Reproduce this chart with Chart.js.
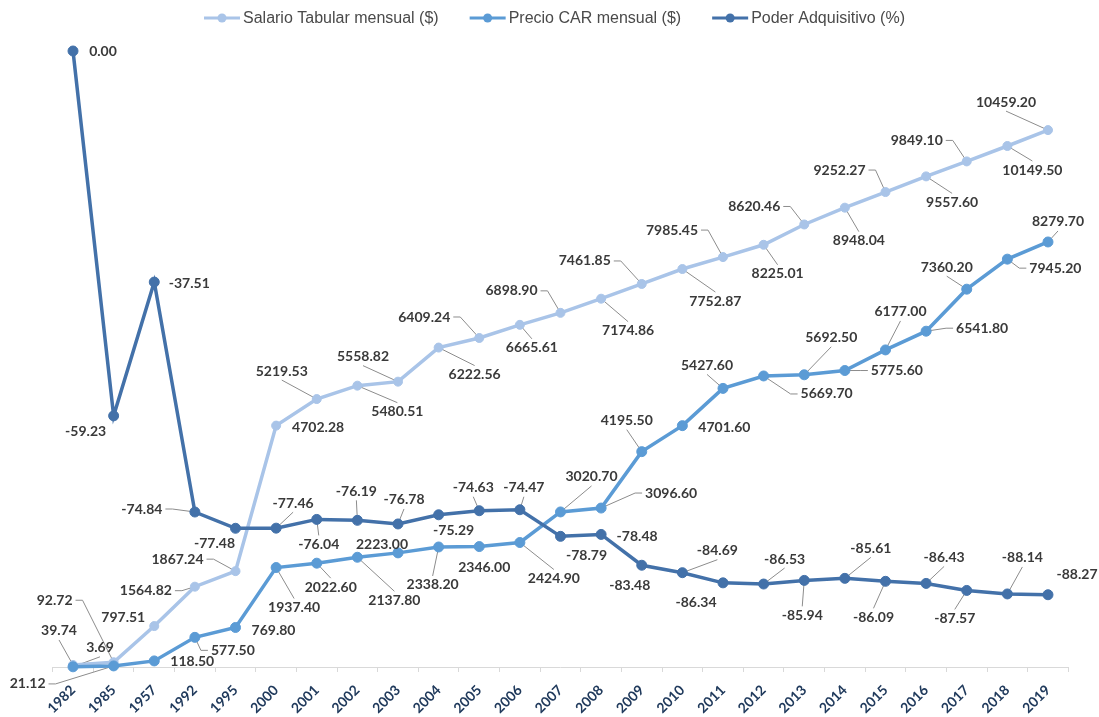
<!DOCTYPE html>
<html>
<head>
<meta charset="utf-8">
<script src="https://cdn.jsdelivr.net/npm/chart.js@4.4.1/dist/chart.umd.min.js"></script>
<style>
  html, body { margin: 0; padding: 0; background: #ffffff; }
  #wrap { width: 1099px; height: 717px; position: relative; }
</style>
</head>
<body>
<div id="wrap"><canvas id="c" width="1099" height="717"></canvas></div>
<script>
// ---------------- data ----------------
const categories = ['1982','1985','1957','1992','1995','2000','2001','2002','2003','2004','2005','2006','2007','2008','2009','2010','2011','2012','2013','2014','2015','2016','2017','2018','2019'];
const seriesNames = ['Salario Tabular mensual ($)', 'Precio CAR mensual ($)', 'Poder Adquisitivo (%)'];
const salario = [39.74, 92.72, 797.51, 1564.82, 1867.24, 4702.28, 5219.53, 5480.51, 5558.82, 6222.56, 6409.24, 6665.61, 6898.90, 7174.86, 7461.85, 7752.87, 7985.45, 8225.01, 8620.46, 8948.04, 9252.27, 9557.60, 9849.10, 10149.50, 10459.20];
const precio = [3.69, 21.12, 118.50, 577.50, 769.80, 1937.40, 2022.60, 2137.80, 2223.00, 2338.20, 2346.00, 2424.90, 3020.70, 3096.60, 4195.50, 4701.60, 5427.60, 5669.70, 5692.50, 5775.60, 6177.00, 6541.80, 7360.20, 7945.20, 8279.70];
const poder = [0.00, -59.23, -37.51, -74.84, -77.48, -77.46, -76.04, -76.19, -76.78, -75.29, -74.63, -74.47, -78.79, -78.48, -83.48, -84.69, -86.34, -86.53, -85.94, -85.61, -86.09, -86.43, -87.57, -88.14, -88.27];

// label placement relative to each point: [dx, dy, leader] ; leader: 0 none, 'e' elbow from side, 'v' from top/bottom
const salarioLabelPos = [
  [-14,-34,'v'],[-59,-62,'e'],[-31,-9,0],[-49,4,'e'],[-58,-12,'e'],[42,2,0],[-35,-28,'v'],[40,26,'v'],
  [-35,-25,'v'],[36,27,'v'],[-55,-21,'e'],[12,23,'v'],[-49,-22,'e'],[27,32,'v'],[-57,-23,'e'],[33,32,'v'],
  [-51,-27,'e'],[14,29,'v'],[-50,-18,'e'],[14,33,'v'],[-46,-22,'e'],[26,26,'v'],[-50,-21,'e'],[25,24,'v'],[-42,-28,'v']
];
const precioLabelPos = [
  [27,-19,'v'],[-86,18,'e'],[38,1,0],[38,13,'e'],[38,3,0],[18,40,'v'],[14,24,'v'],[37,43,'v'],
  [-16,-8,0],[-6,38,'v'],[5,21,0],[34,36,'v'],[31,-35,'v'],[70,-15,'e'],[-15,-31,'v'],[42,2,0],
  [-16,-23,'v'],[63,18,'e'],[27,-37,'v'],[52,0,'e'],[15,-38,'v'],[56,-3,'e'],[-20,-22,'v'],[48,9,'e'],[10,-20,'v']
];
const poderLabelPos = [
  [30,0,0],[-28,16,0],[35,1,0],[-53,-3,'e'],[-21,15,0],[17,-25,'v'],[2,25,'v'],[-1,-29,'v'],
  [6,-24,'v'],[15,16,0],[-6,-23,'v'],[4,-22,'v'],[26,19,0],[36,2,0],[-12,20,0],[35,-22,'v'],
  [-27,20,0],[21,-25,'v'],[-2,35,'v'],[26,-30,'v'],[-12,36,'v'],[18,-26,'v'],[-12,28,'v'],[15,-36,'v'],[29,-20,0]
];

// ---------------- styles ----------------
const COLORS = ['#A9C4E8', '#5B9BD5', '#4371A9'];
const LABEL_FONT = 'bold 14px Lato';
const LABEL_COLOR = '#3a3a3a';
const LEADER_COLOR = '#8c8c8c';

const labelPositions = [salarioLabelPos, precioLabelPos, poderLabelPos];

function eachLabel(chart, cb) {
  const ctx = chart.ctx;
  chart.data.datasets.forEach((ds, di) => {
    const meta = chart.getDatasetMeta(di);
    const pos = labelPositions[di];
    meta.data.forEach((pt, i) => {
      const text = Number(ds.data[i]).toFixed(2);
      const p = pos[i];
      cb(ctx, pt, text, pt.x + p[0], pt.y + p[1], p[2]);
    });
  });
}

const pointLabelsPlugin = {
  id: 'pointLabels',
  beforeDatasetsDraw(chart) {
    const ctx = chart.ctx;
    ctx.save();
    ctx.font = LABEL_FONT;
    ctx.strokeStyle = LEADER_COLOR;
    ctx.lineWidth = 1;
    eachLabel(chart, (ctx, pt, text, cx, cy, mode) => {
      if (!mode) return;
      const w = ctx.measureText(text).width;
      const h = 12;
      ctx.beginPath();
      if (mode === 'e') {
        const side = pt.x > cx ? 1 : -1;
        const sx = cx + side * (w / 2 + 3);
        ctx.moveTo(sx, cy);
        ctx.lineTo(sx + side * 7, cy);
        ctx.lineTo(pt.x, pt.y);
      } else {
        const side = pt.y > cy ? 1 : -1;
        ctx.moveTo(cx, cy + side * (h / 2 + 3));
        ctx.lineTo(pt.x, pt.y);
      }
      ctx.stroke();
    });
    ctx.restore();
  },
  afterDatasetsDraw(chart) {
    const ctx = chart.ctx;
    ctx.save();
    ctx.font = LABEL_FONT;
    ctx.fillStyle = LABEL_COLOR;
    ctx.textAlign = 'center';
    ctx.textBaseline = 'middle';
    eachLabel(chart, (ctx, pt, text, cx, cy) => {
      ctx.fillText(text, cx, cy);
    });
    ctx.restore();
  }
};

const legendPlugin = {
  id: 'lineLegend',
  afterDraw(chart) {
    const ctx = chart.ctx;
    ctx.save();
    ctx.font = '16px "Liberation Sans"';
    const items = chart.data.datasets.map(ds => ({ text: ds.label, color: ds.borderColor, w: ctx.measureText(ds.label).width }));
    const markW = 36, gapIn = 3, gapOut = 31;
    const total = items.reduce((s, it) => s + markW + gapIn + it.w, 0) + gapOut * (items.length - 1);
    let x = chart.width / 2 - total / 2 + 5;
    const y = 18;
    items.forEach(it => {
      ctx.strokeStyle = it.color;
      ctx.lineWidth = 3;
      ctx.beginPath(); ctx.moveTo(x, y); ctx.lineTo(x + markW, y); ctx.stroke();
      ctx.fillStyle = it.color;
      ctx.beginPath(); ctx.arc(x + markW / 2, y, 4.5, 0, Math.PI * 2); ctx.fill();
      ctx.fillStyle = '#4a4a4a';
      ctx.textAlign = 'left';
      ctx.textBaseline = 'middle';
      ctx.fillText(it.text, x + markW + gapIn, y + 1);
      x += markW + gapIn + it.w + gapOut;
    });
    ctx.restore();
  }
};

function makeDataset(label, data, color, axis, order, radius) {
  return {
    label, data, yAxisID: axis, order,
    borderColor: color, backgroundColor: color,
    borderWidth: 3.5,
    pointRadius: radius, pointHoverRadius: radius,
    pointBackgroundColor: color, pointBorderColor: color, pointBorderWidth: 1,
    tension: 0, fill: false, clip: false
  };
}

new Chart(document.getElementById('c'), {
  type: 'line',
  data: {
    labels: categories,
    datasets: [
      makeDataset(seriesNames[0], salario, COLORS[0], 'y', 2, 4.5),
      makeDataset(seriesNames[1], precio, COLORS[1], 'y', 1, 5),
      makeDataset(seriesNames[2], poder, COLORS[2], 'y2', 0, 5)
    ]
  },
  options: {
    responsive: false,
    animation: false,
    events: [],
    layout: { padding: { top: 51, bottom: 0, left: 52.7, right: 30.7 } },
    plugins: { legend: { display: false }, tooltip: { enabled: false } },
    scales: {
      x: {
        type: 'category',
        offset: true,
        afterFit(scale) { scale.height = 50; },
        border: { display: true, color: '#D9D9D9', width: 1 },
        grid: { display: true, drawOnChartArea: false, drawTicks: true, tickLength: 5, color: '#D9D9D9', offset: true },
        ticks: {
          minRotation: 45, maxRotation: 45, autoSkip: false, padding: 10,
          color: '#203A5C', font: { family: 'Lato', size: 14, weight: 'bold' }
        }
      },
      y: { type: 'linear', display: false, min: 0, max: 12000 },
      y2: { type: 'linear', display: false, min: -100, max: 0, position: 'right' }
    }
  },
  plugins: [pointLabelsPlugin, legendPlugin]
});
</script>
</body>
</html>
